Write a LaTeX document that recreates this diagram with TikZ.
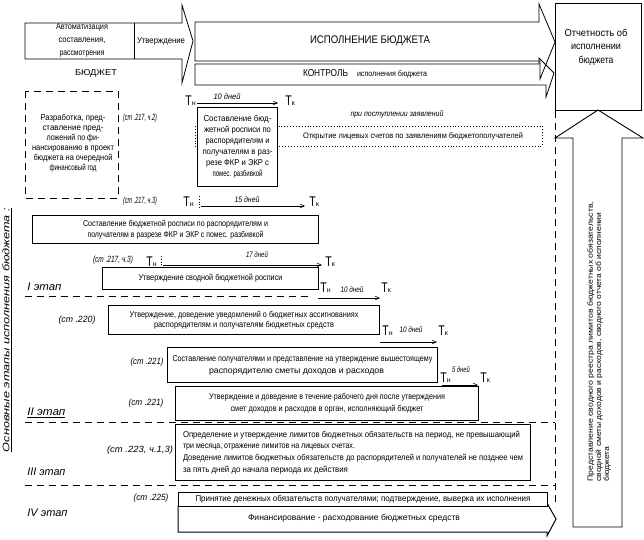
\documentclass[tikz,border=0pt]{standalone}
\usepackage{fontspec}
\setmainfont{Liberation Sans}
\usepackage{graphicx}
\usetikzlibrary{arrows.meta}
\newsavebox\fitbox
\newlength\fitlen
\newcommand\fitw[2]{\sbox\fitbox{#2}\setlength\fitlen{\wd\fitbox}\pgfmathsetmacro\fitr{#1/\fitlen}\scalebox{\fitr}[1]{\usebox\fitbox}}
\newcommand\TN{{\fontsize{14}{14}\selectfont\scalebox{0.75}[1]{T}}{\fontsize{7}{7}\selectfont н}}
\newcommand\TK{{\fontsize{14}{14}\selectfont\scalebox{0.75}[1]{T}}{\fontsize{7}{7}\selectfont к}}
\begin{document}
\begin{tikzpicture}[x=1pt,y=-1pt,line join=miter,line width=0.8pt,
  box/.style={draw,line width=1pt,fill=white,inner sep=0pt,align=center,anchor=north west},
  txt/.style={inner sep=0pt,align=center},
  st/.style={inner sep=0pt,font=\itshape\fontsize{9}{9}\selectfont},
  etap/.style={inner sep=0pt,anchor=west,font=\itshape\fontsize{11}{11}\selectfont},
  days/.style={inner sep=0pt,font=\itshape\fontsize{8}{8}\selectfont},
  tmark/.style={inner sep=0pt,anchor=base west},
  per/.style={line width=0.6pt,-{Straight Barb[length=4pt,width=3.5pt]}},
  stage/.style={line width=0.9pt,dash pattern=on 7pt off 5pt}]
\useasboundingbox (0,0) rectangle (644,539);
% top: budget preparation arrow
\draw (25,23) -- (182,23) -- (182,5) -- (193,41) -- (182,83) -- (182,59) -- (25,59) -- cycle;
\draw (134,23) -- (134,59);
\node[txt,font=\fontsize{8.5}{13}\selectfont] (auto) at (82,40) {\fitw{52}{Автоматизация}\\\fitw{47}{составления,}\\\fitw{45}{рассмотрения}};
\node[txt,font=\fontsize{8.5}{9}\selectfont] (utv) at (161,41) {\fitw{48}{Утверждение}};
\node[txt,font=\fontsize{8.5}{9}\selectfont] (bud) at (96,73) {\fitw{42}{БЮДЖЕТ}};
% execution and control arrows
\draw (195,64) -- (539,64) -- (539,58) -- (554,73) -- (546,97) -- (546,85) -- (195,85) -- cycle;
\draw (195,22) -- (539,22) -- (539,4) -- (555,42) -- (540,79) -- (540,61) -- (195,61) -- cycle;
\node[txt,font=\fontsize{11}{11}\selectfont] (isp) at (370,41) {\fitw{120}{ИСПОЛНЕНИЕ БЮДЖЕТА}};
\node[txt] (kontr) at (365,74) {\fitw{45}{\fontsize{10}{10}\selectfont КОНТРОЛЬ}\hspace{9pt}\fitw{70}{\fontsize{8}{8}\selectfont исполнения бюджета}};
% report box
\node[draw,line width=1pt,anchor=north west,minimum width=86,minimum height=107,inner sep=0pt] (rep) at (555,3) {};
\node[txt,font=\fontsize{10}{13.5}\selectfont] (reptxt) at (596,47) {\fitw{63}{Отчетность об}\\\fitw{50}{исполнении}\\\fitw{35}{бюджета}};
% upward arrow
\draw[line width=0.9pt] (573,527) -- (573,138) -- (555,138) -- (598,110) -- (643,138) -- (622,138) -- (622,527) -- cycle;
\node[rotate=90,anchor=west,inner sep=0pt,align=left,font=\fontsize{7.5}{7}\selectfont] (uptxt) at (599,482) {\fitw{280}{Представление сводного реестра лимитов бюджетных обязательств,}\\\fitw{269}{сводной сметы доходов и расходов, сводного отчета об исполнении}\\\fitw{35}{бюджета}};
% stage frame
\coordinate (vend) at (555,507);
\draw[stage] (rep.south west) -- (vend);
\draw[stage] (25,296) -- (312,296);
\draw[stage] (25,422) -- (555,422);
\draw[stage] (25,485) -- (555,485);
% dashed proposal box
\draw[stage] (25,91) rectangle (118,198);
\node[txt,font=\fontsize{8.5}{10}\selectfont] (razr) at (73,143) {\fitw{65}{Разработка, пред-}\\\fitw{61}{ставление пред-}\\\fitw{53}{ложений по фи-}\\\fitw{82}{нансированию в проект}\\\fitw{79}{бюджета на очередной}\\\fitw{47}{финансовый год}};
% article labels
\node[st] (st1) at (140,118) {\fitw{34}{(ст .217, ч.2)}};
\node[st] (st2) at (140,201) {\fitw{34}{(ст .217, ч.3)}};
\node[st] (st3) at (113,260) {\fitw{40}{(ст .217, ч.3)}};
\node[st] (st4) at (77,320) {\fitw{37}{(ст .220)}};
\node[st] (st5) at (147,362) {\fitw{33}{(ст .221)}};
\node[st] (st6) at (146,403) {\fitw{35}{(ст .221)}};
\node[st] (st7) at (140,450) {\fitw{66}{(ст .223, ч.1,3)}};
\node[st] (st8) at (151,498) {\fitw{35}{(ст .225)}};
% stage labels
\node[etap] (e1) at (27,287) {\fitw{34}{I этап}};
\node[etap] (e2) at (27,413) {\underline{\fitw{38}{II этап}}};
\node[etap] (e3) at (27,472) {\fitw{38}{III этап}};
\node[etap] (e4) at (27,513) {\fitw{40}{IV этап}};
\node[rotate=90,inner sep=0pt,font=\itshape\fontsize{9.5}{9.5}\selectfont] (osn) at (7,330) {\underline{\fitw{244}{Основные этапы исполнения бюджета :}}};
% dotted account box
\draw[dotted,line width=0.9pt] (195,126) rectangle (542,146);
\node[txt,font=\fontsize{8}{8}\selectfont] (otkr) at (413,136) {\fitw{220}{Открытие лицевых счетов по заявлениям бюджетополучателей}};
\node[days] (pri) at (397,114) {\fitw{93}{при поступлении заявлений}};
% box 7
\node[box,minimum width=80,minimum height=79,font=\fontsize{8.5}{11}\selectfont] (b7) at (197,107) {\fitw{68}{Составление бюд-}\\\fitw{67}{жетной росписи по}\\\fitw{64}{распорядителям и}\\\fitw{70}{получателям в раз-}\\\fitw{63}{резе ФКР и ЭКР с}\\\fitw{50}{помес. разбивкой}};
% periods
\node[tmark] (tn1) at (185,105) {\TN};
\node[tmark] (tk1) at (285,105) {\TK};
\coordinate (a1s) at (197,103); \coordinate (a1e) at (278,103);
\draw[per] (a1s) -- (a1e);
\node[days] (d1) at (227,97) {\fitw{27}{10 дней}};
\node[tmark] (tn2) at (183,206) {\TN};
\node[tmark] (tk2) at (309,206) {\TK};
\coordinate (a2s) at (201,206); \coordinate (a2e) at (305,206);
\draw[per] (a2s) -- (a2e);
\draw[dotted,line width=0.8pt] (199,196) -- (199,209);
\node[days] (d2) at (247,200) {\fitw{25}{15 дней}};
\node[tmark] (tn3) at (146,266) {\TN};
\node[tmark] (tk3) at (325,266) {\TK};
\coordinate (a3s) at (163,265); \coordinate (a3e) at (322,265);
\draw[per] (a3s) -- (a3e);
\draw[dotted,line width=0.8pt] (161,256) -- (161,268);
\node[days] (d3) at (257,255) {\fitw{22}{17 дней}};
\node[tmark] (tn4) at (320,292) {\TN};
\node[tmark] (tk4) at (381,292) {\TK};
\coordinate (a4s) at (318,298); \coordinate (a4e) at (380,298);
\draw[per] (a4s) -- (a4e);
\node[days] (d4) at (352,290) {\fitw{23}{10 дней}};
\node[tmark] (tn5) at (382,335) {\TN};
\node[tmark] (tk5) at (438,335) {\TK};
\coordinate (a5s) at (380,342); \coordinate (a5e) at (437,342);
\draw[per] (a5s) -- (a5e);
\node[days] (d5) at (411,330) {\fitw{23}{10 дней}};
\node[tmark] (tn6) at (440,382) {\TN};
\node[tmark] (tk6) at (480,382) {\TK};
\coordinate (a6s) at (442,385); \coordinate (a6e) at (478,385);
\draw[per] (a6s) -- (a6e);
\node[days] (d6) at (461,370) {\fitw{18}{5 дней}};
% boxes
\node[box,minimum width=286,minimum height=28,font=\fontsize{8.5}{10.5}\selectfont] (b9) at (32,215) {\fitw{185}{Составление бюджетной росписи по распорядителям и}\\\fitw{176}{получателям в разрезе ФКР и ЭКР с помес. разбивкой}};
\node[box,minimum width=216,minimum height=22,font=\fontsize{8.5}{10.5}\selectfont] (b11) at (102,267) {\fitw{144}{Утверждение сводной бюджетной росписи}};
\node[box,minimum width=271,minimum height=29,font=\fontsize{8.5}{10.5}\selectfont] (b15) at (108,305) {\fitw{229}{Утверждение, доведение уведомлений о бюджетных ассигнованиях}\\\fitw{180}{распорядителям и получателям бюджетных средств}};
\node[box,minimum width=270,minimum height=35,font=\fontsize{8.5}{12}\selectfont] (b18) at (167,347) {\fitw{260}{Составление получателями и представление на утверждение вышестоящему}\\\hspace*{-12pt}\fitw{175}{распорядителю сметы доходов и расходов}};
\node[box,minimum width=303,minimum height=34,font=\fontsize{8.5}{11.5}\selectfont] (b22) at (175,386) {\fitw{236}{Утверждение и доведение в течение рабочего дня после утверждения}\\\fitw{193}{смет доходов и расходов в орган, исполняющий бюджет}};
\node[box,align=left,minimum width=355,minimum height=56,font=\fontsize{8.5}{11.7}\selectfont] (b23) at (175,424) {\fitw{337}{Определение и утверждение  лимитов бюджетных обязательств  на период, не превышающий}\\\fitw{172}{три месяца, отражение лимитов на лицевых счетах.}\\\fitw{340}{Доведение лимитов бюджетных обязательств до распорядителей и получателей не позднее чем}\\\fitw{165}{за пять дней до начала периода их действия}};
% bottom arrow
\draw[line width=1pt] (178,506) -- (547,506) -- (547,503) -- (556,519) -- (547,536) -- (547,532) -- (178,532) -- cycle;
\node[box,minimum width=369,minimum height=14,font=\fontsize{8.5}{9}\selectfont] (prin) at (178,492) {\fitw{335}{Принятие денежных обязательств получателями; подтверждение, выверка их исполнения}};
\node[txt,font=\fontsize{8.5}{9}\selectfont] (fin) at (354,518) {\fitw{212}{Финансирование - расходование бюджетных средств}};
\end{tikzpicture}
\end{document}
